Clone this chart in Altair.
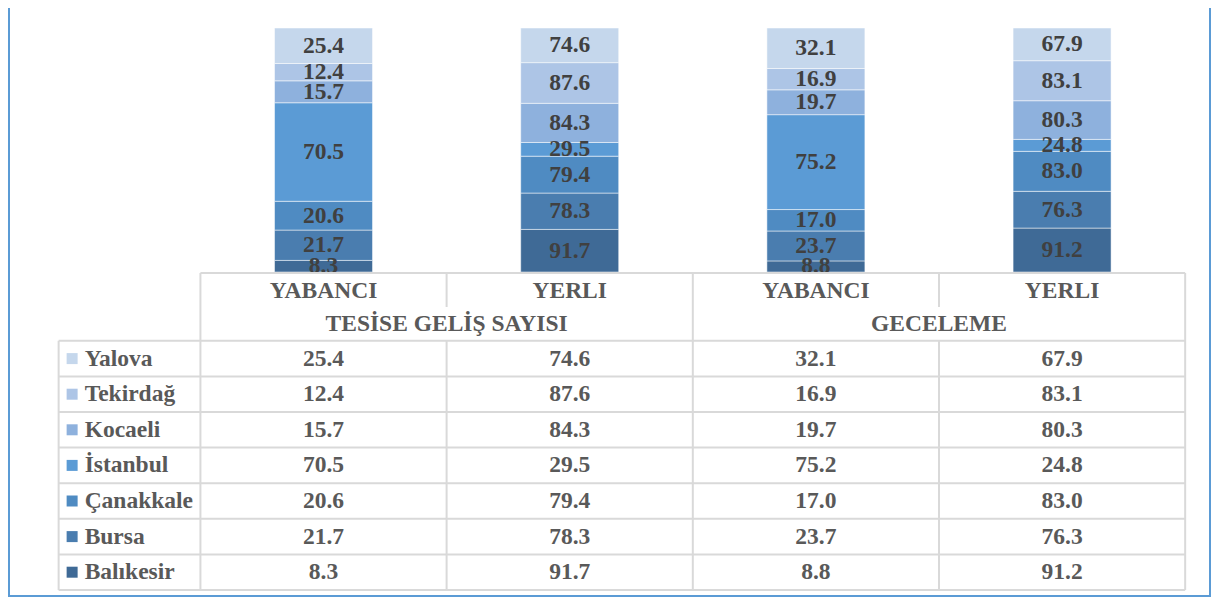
import altair as alt
import pandas as pd

# ---- data ----
cities = ["Balıkesir", "Bursa", "Çanakkale", "İstanbul", "Kocaeli", "Tekirdağ", "Yalova"]  # bottom -> top
col_labels = ["YABANCI", "YERLI", "YABANCI", "YERLI"]
group_labels = ["TESİSE GELİŞ SAYISI", "GECELEME"]
yabanci_gelis = [8.3, 21.7, 20.6, 70.5, 15.7, 12.4, 25.4]
yerli_gelis = [91.7, 78.3, 79.4, 29.5, 84.3, 87.6, 74.6]
yabanci_gece = [8.8, 23.7, 17.0, 75.2, 19.7, 16.9, 32.1]
yerli_gece = [91.2, 76.3, 83.0, 24.8, 80.3, 83.1, 67.9]
colors = ["#3f6a96", "#4a7daf", "#4f8bc2", "#5b9bd5", "#8eb1dd", "#adc5e6", "#c5d7ec"]

series = [yabanci_gelis, yerli_gelis, yabanci_gece, yerli_gece]

# ---- tables built from the arrays ----
rows = []
for c, vals in enumerate(series):
    for r, (city, v) in enumerate(zip(cities, vals)):
        rows.append({"col": c, "city": city, "rank": r, "value": v})
df = pd.DataFrame(rows)

hdr = pd.DataFrame({"col": list(range(4)), "label": col_labels})
grp = pd.DataFrame({"g": [0, 1], "label": group_labels})
leg = pd.DataFrame({"city": cities, "rank": list(range(len(cities)))})

# ---- layout constants (table units) ----
W, H = 1203, 589
LABEL_LEFT = -0.576   # left edge of the label column, in column units
N_ROWS = len(cities)
HEADER_TOP = 8.904
HDR_TEXT = 8.41
GRP_TEXT = 7.458
SPLIT_BOTTOM = 7.95

hlines = [{"x": LABEL_LEFT, "x2": 4, "y": k} for k in range(N_ROWS + 1)]
hlines.append({"x": 0, "x2": 4, "y": HEADER_TOP})
vlines = [{"x": LABEL_LEFT, "y": 0, "y2": N_ROWS}]
for xv in [0, 2, 4]:
    vlines.append({"x": xv, "y": 0, "y2": HEADER_TOP})
for xv in [1, 3]:
    vlines.append({"x": xv, "y": 0, "y2": N_ROWS})
    vlines.append({"x": xv, "y": SPLIT_BOTTOM, "y2": HEADER_TOP})
hl = pd.DataFrame(hlines)
vl = pd.DataFrame(vlines)

xs = alt.Scale(domain=[-189 / 248.25, (W - 189) / 248.25], nice=False, zero=False)
ybar = alt.Scale(domain=[0, 1], range=[264, 20], nice=False, zero=False)
ytab = alt.Scale(domain=[0, 10], range=[582, 226], nice=False, zero=False)
cscale = alt.Scale(domain=cities, range=colors)

FONT = "'Liberation Serif', 'Times New Roman', Times, 'DejaVu Serif', serif"
FS = 23.5
GRID = "#d9d9d9"
TXT = "#595959"

base = (
    alt.Chart(df)
    .transform_joinaggregate(total="sum(value)", groupby=["col"])
    .transform_window(cum="sum(value)", sort=[alt.SortField("rank")], groupby=["col"], frame=[None, 0])
    .transform_calculate(
        xc="datum.col + 0.5",
        y0="(datum.cum - datum.value) / datum.total",
        y1="datum.cum / datum.total",
        ym="(datum.cum - datum.value / 2) / datum.total",
    )
)

bars = base.mark_bar(size=98, stroke="white", strokeWidth=1, strokeOpacity=0.5).encode(
    x=alt.X("xc:Q", scale=xs, axis=None),
    y=alt.Y("y0:Q", scale=ybar, axis=None),
    y2="y1:Q",
    color=alt.Color("city:N", scale=cscale, legend=None),
)
bar_txt = base.mark_text(font=FONT, fontWeight="bold", fontSize=FS, color="#404040", baseline="middle").encode(
    x=alt.X("xc:Q", scale=xs, axis=None),
    y=alt.Y("ym:Q", scale=ybar, axis=None),
    text=alt.Text("value:Q", format=".1f"),
)

hrule = alt.Chart(hl).mark_rule(color=GRID, strokeWidth=2).encode(
    x=alt.X("x:Q", scale=xs, axis=None), x2="x2:Q", y=alt.Y("y:Q", scale=ytab, axis=None)
)
vrule = alt.Chart(vl).mark_rule(color=GRID, strokeWidth=2).encode(
    x=alt.X("x:Q", scale=xs, axis=None), y=alt.Y("y:Q", scale=ytab, axis=None), y2="y2:Q"
)

hdr_txt = (
    alt.Chart(hdr)
    .transform_calculate(xc="datum.col + 0.5", yv=str(HDR_TEXT))
    .mark_text(font=FONT, fontWeight="bold", fontSize=FS, color=TXT, baseline="middle")
    .encode(x=alt.X("xc:Q", scale=xs, axis=None), y=alt.Y("yv:Q", scale=ytab, axis=None), text="label:N")
)
grp_txt = (
    alt.Chart(grp)
    .transform_calculate(xc="datum.g * 2 + 1", yv=str(GRP_TEXT))
    .mark_text(font=FONT, fontWeight="bold", fontSize=FS, color=TXT, baseline="middle")
    .encode(x=alt.X("xc:Q", scale=xs, axis=None), y=alt.Y("yv:Q", scale=ytab, axis=None), text="label:N")
)

leg_sq = (
    alt.Chart(leg)
    .transform_calculate(xl=str(LABEL_LEFT), yv="datum.rank + 0.5")
    .mark_square(size=121, opacity=1, xOffset=13.5)
    .encode(
        x=alt.X("xl:Q", scale=xs, axis=None),
        y=alt.Y("yv:Q", scale=ytab, axis=None),
        color=alt.Color("city:N", scale=cscale, legend=None),
    )
)
leg_txt = (
    alt.Chart(leg)
    .transform_calculate(xl=str(LABEL_LEFT), yv="datum.rank + 0.5")
    .mark_text(font=FONT, fontWeight="bold", fontSize=FS, color=TXT, baseline="middle", align="left", dx=26)
    .encode(x=alt.X("xl:Q", scale=xs, axis=None), y=alt.Y("yv:Q", scale=ytab, axis=None), text="city:N")
)

val_txt = (
    alt.Chart(df)
    .transform_calculate(xc="datum.col + 0.5", yv="datum.rank + 0.5")
    .mark_text(font=FONT, fontWeight="bold", fontSize=FS, color=TXT, baseline="middle")
    .encode(
        x=alt.X("xc:Q", scale=xs, axis=None),
        y=alt.Y("yv:Q", scale=ytab, axis=None),
        text=alt.Text("value:Q", format=".1f"),
    )
)

dummy = pd.DataFrame({"a": [0]})
FRAME = "#5b9bd5"
frame_l = alt.Chart(dummy).mark_rule(color=FRAME, strokeWidth=2).encode(
    x=alt.value(1), y=alt.value(0), y2=alt.value(H)
)
frame_r = alt.Chart(dummy).mark_rule(color=FRAME, strokeWidth=2).encode(
    x=alt.value(W - 1), y=alt.value(0), y2=alt.value(H)
)
frame_b = alt.Chart(dummy).mark_rule(color=FRAME, strokeWidth=2).encode(
    x=alt.value(0), x2=alt.value(W), y=alt.value(H - 1)
)

chart = (
    alt.layer(bars, bar_txt, hrule, vrule, hdr_txt, grp_txt, leg_sq, leg_txt, val_txt, frame_l, frame_r, frame_b)
    .resolve_scale(y="independent")
    .properties(width=W, height=H, padding=0, autosize=alt.AutoSizeParams(type="none"))
    .configure_view(stroke=None)
)

chart.save("out.html", embed_options={"renderer": "svg", "actions": False})
